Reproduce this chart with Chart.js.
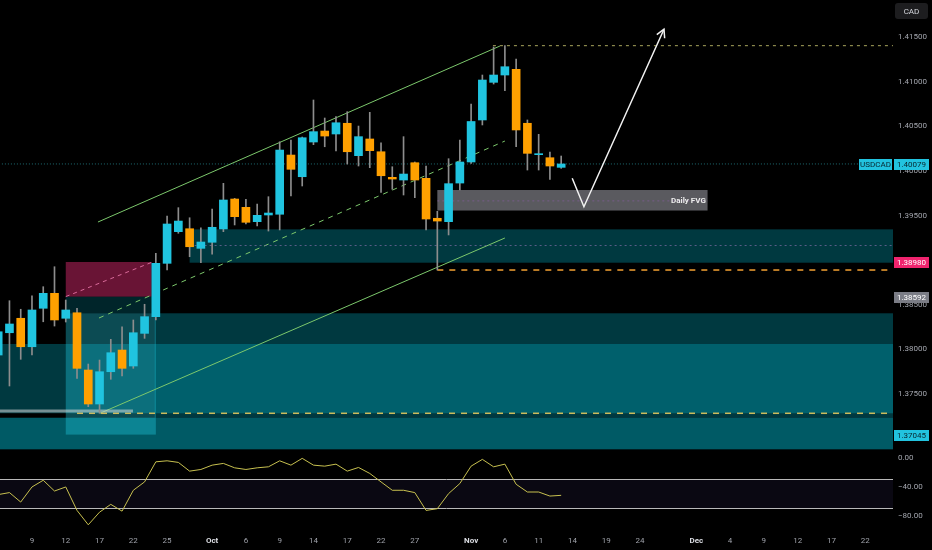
<!DOCTYPE html>
<html>
<head>
<meta charset="utf-8">
<title>USDCAD</title>
<script src="https://cdn.jsdelivr.net/npm/chart.js@4.4.1/dist/chart.umd.min.js"></script>
<style>
  html, body { margin: 0; padding: 0; background: #000; }
  #wrap { width: 932px; height: 550px; position: relative; }
</style>
</head>
<body>
<div id="wrap"><canvas id="chart" width="932" height="550"></canvas></div>
<script>
// daily candles, 2025
const dates = [
  'Sep 4', 'Sep 5', 'Sep 8', 'Sep 9', 'Sep 10', 'Sep 11', 'Sep 12', 'Sep 15', 'Sep 16', 'Sep 17',
  'Sep 18', 'Sep 19', 'Sep 22', 'Sep 23', 'Sep 24', 'Sep 25', 'Sep 26', 'Sep 29', 'Sep 30', 'Oct 1',
  'Oct 2', 'Oct 3', 'Oct 6', 'Oct 7', 'Oct 8', 'Oct 9', 'Oct 10', 'Oct 13', 'Oct 14', 'Oct 15',
  'Oct 16', 'Oct 17', 'Oct 20', 'Oct 21', 'Oct 22', 'Oct 23', 'Oct 24', 'Oct 27', 'Oct 28', 'Oct 29',
  'Oct 30', 'Oct 31', 'Nov 3', 'Nov 4', 'Nov 5', 'Nov 6', 'Nov 7', 'Nov 10', 'Nov 11', 'Nov 12', 'Nov 13'
];
const open = [
  1.37937, 1.38187, 1.38349, 1.38030, 1.38461, 1.38629, 1.38349, 1.38411, 1.37769, 1.37388,
  1.37750, 1.37993, 1.37814, 1.38180, 1.38367, 1.38965, 1.39320, 1.39353, 1.39133, 1.39201,
  1.39350, 1.39686, 1.39593, 1.39432, 1.39507, 1.39515, 1.40179, 1.39936, 1.40325, 1.40448,
  1.40415, 1.40535, 1.40172, 1.40359, 1.40216, 1.39929, 1.39899, 1.40093, 1.39918, 1.39470,
  1.39432, 1.39865, 1.40101, 1.40572, 1.40994, 1.41076, 1.41140, 1.40535, 1.40183, 1.40149, 1.40041
];
const high = [
  1.38274, 1.38546, 1.38450, 1.38602, 1.38703, 1.38927, 1.38554, 1.38461, 1.37836, 1.37881,
  1.38113, 1.38254, 1.38330, 1.38506, 1.39077, 1.39496, 1.39589, 1.39476, 1.39364, 1.39574,
  1.39862, 1.39694, 1.39683, 1.39630, 1.39712, 1.40328, 1.40348, 1.40381, 1.40796, 1.40594,
  1.40609, 1.40665, 1.40504, 1.40658, 1.40317, 1.40048, 1.40385, 1.40101, 1.40056, 1.39548,
  1.40138, 1.40348, 1.40751, 1.41076, 1.41390, 1.41405, 1.41256, 1.40572, 1.40411, 1.40213, 1.40168
];
const low = [
  1.37769, 1.37590, 1.37889, 1.37937, 1.38310, 1.38262, 1.38307, 1.37676, 1.37358, 1.37284,
  1.37665, 1.37702, 1.37788, 1.38124, 1.38330, 1.38890, 1.39302, 1.39039, 1.38972, 1.39069,
  1.39320, 1.39395, 1.39406, 1.39383, 1.39327, 1.39339, 1.39720, 1.39832, 1.40295, 1.40272,
  1.40224, 1.40078, 1.40056, 1.40037, 1.39761, 1.39795, 1.39731, 1.39701, 1.39339, 1.38890,
  1.39283, 1.39787, 1.40086, 1.40516, 1.40975, 1.40900, 1.40272, 1.40011, 1.40011, 1.39907, 1.40030
];
const close = [
  1.38198, 1.38285, 1.38030, 1.38442, 1.38629, 1.38330, 1.38442, 1.37788, 1.37388, 1.37750,
  1.37963, 1.37788, 1.38187, 1.38367, 1.38965, 1.39406, 1.39439, 1.39151, 1.39204, 1.39369,
  1.39675, 1.39488, 1.39425, 1.39503, 1.39529, 1.40235, 1.40019, 1.40373, 1.40441, 1.40392,
  1.40541, 1.40216, 1.40385, 1.40228, 1.39947, 1.39910, 1.39966, 1.39899, 1.39462, 1.39439,
  1.39858, 1.40101, 1.40555, 1.41020, 1.41076, 1.41169, 1.40460, 1.40198, 1.40194, 1.40056, 1.40079
];
// oscillator pane
const osc = [
  -51.0, -48.2, -61.3, -40.4, -31.1, -46.0, -40.4, -72.9, -92.8, -75.3,
  -64.5, -73.9, -45.0, -33.4, -5.6, -4.2, -6.4, -18.5, -16.2, -10.2,
  -7.8, -13.9, -16.2, -13.9, -12.5, -4.2, -10.2, -0.8, -10.2, -11.6,
  -8.8, -18.5, -13.4, -21.7, -33.4, -45.0, -45.0, -48.2, -72.9, -70.5,
  -49.6, -35.7, -11.6, -2.2, -12.5, -8.8, -36.7, -47.4, -47.4, -53.0, -52.0
];
const oscBands = [-30, -70];
// time axis (trading-day index -> label)
const tickIndex = [3, 6, 9, 12, 15, 19, 22, 25, 28, 31, 34, 37, 42, 45, 48, 51, 54, 57, 62, 65, 68, 71, 74, 77];
const tickLabels = ['9', '12', '17', '22', '25', 'Oct', '6', '9', '14', '17', '22', '27', 'Nov', '6', '11', '14', '19', '24', 'Dec', '4', '9', '12', '17', '22'];
const monthLabels = ['Oct', 'Nov', 'Dec'];
const lastPrice = 1.40079;

const UP = '#20c4e0';
const DOWN = '#ffa000';
const WICK = '#8d8d8d';
const START = -5, END = 100;

// drawings on the price pane, in data units (trading-day index, price)
const zones = [
  { x1: 13.9, x2: END, top: 1.38405, bottom: 1.37234, fill: 'rgba(0,188,212,0.30)' },
  { x1: START, x2: END, top: 1.38061, bottom: 1.37284, fill: 'rgba(0,188,212,0.30)' },
  { x1: START, x2: END, top: 1.37234, bottom: 1.36880, fill: 'rgba(0,188,212,0.48)' },
  { x1: 17.0, x2: END, top: 1.39346, bottom: 1.38972, fill: 'rgba(0,188,212,0.30)' },
  { x1: 6.0, x2: 14.0, top: 1.38592, bottom: 1.38405, fill: 'rgba(0,170,190,0.22)' },
  { x1: 6.0, x2: 13.63, top: 1.38980, bottom: 1.38592, fill: 'rgba(240,45,120,0.44)' },
  { x1: 6.0, x2: 14.0, top: 1.38405, bottom: 1.37045, fill: 'rgba(34,208,230,0.36)' },
  { x1: 39.0, x2: 63.0, top: 1.39787, bottom: 1.39557, fill: 'rgba(128,128,135,0.70)' }
];
const lines = [
  { x1: 8.86, p1: 1.39428, x2: 44.56, p2: 1.41401, color: '#7cc86c', width: 1, dash: [] },
  { x1: 8.95, p1: 1.38352, x2: 45.0, p2: 1.40336, color: '#7cc86c', width: 1, dash: [5, 5] },
  { x1: 9.04, p1: 1.37284, x2: 45.0, p2: 1.39249, color: '#7cc86c', width: 1, dash: [] },
  { x1: 43.94, p1: 1.41405, x2: END, p2: 1.41405, color: '#a9a55c', width: 1, dash: [3, 4] },
  { x1: START, p1: lastPrice, x2: END, p2: lastPrice, color: '#1d6c73', width: 1, dash: [1, 2] },
  { x1: 39.0, p1: 1.38890, x2: END, p2: 1.38890, color: '#f2a032', width: 1.5, dash: [6, 6] },
  { x1: 7.0, p1: 1.37284, x2: END, p2: 1.37284, color: '#cdbb5c', width: 1.5, dash: [6, 6] },
  { x1: START, p1: 1.37310, x2: 11.97, p2: 1.37310, color: 'rgba(215,215,215,0.55)', width: 3, dash: [] },
  { x1: 17.0, p1: 1.39165, x2: END, p2: 1.39165, color: 'rgba(120,105,160,0.75)', width: 1, dash: [2, 3] },
  { x1: 39.0, p1: 1.39665, x2: 63.0, p2: 1.39665, color: 'rgba(150,95,180,0.5)', width: 1, dash: [2, 3] },
  { x1: 6.0, p1: 1.38592, x2: 13.63, p2: 1.38976, color: 'rgba(235,120,170,0.85)', width: 1, dash: [4, 4] }
];
const arrowPath = [[50.98, 1.39918], [52.02, 1.39600], [59.13, 1.41589]];
const priceTags = [
  { price: 1.40079, text: '1.40079', bg: '#22c3df', fg: '#08262e' },
  { price: 1.38980, text: '1.38980', bg: '#f0246e', fg: '#ffffff' },
  { price: 1.38592, text: '1.38592', bg: '#7b7d86', fg: '#ffffff' },
  { price: 1.37045, text: '1.37045', bg: '#22c3df', fg: '#08262e' }
];

const wicks = dates.map((d, i) => ({ x: i, y: [low[i], high[i]] }));
const bodies = dates.map((d, i) => ({ x: i, y: [open[i], close[i]] }));
const bodyColors = dates.map((d, i) => close[i] >= open[i] ? UP : DOWN);

const isMonthTick = c => !!(c && c.tick) && monthLabels.includes(tickLabels[tickIndex.indexOf(c.tick.value)]);
// keep the panes flush with the canvas edges
const noPad = s => { s.paddingTop = 0; s.paddingBottom = 0; s.paddingLeft = 0; s.paddingRight = 0; };

const overlay = {
  id: 'overlay',
  beforeDatasetsDraw(chart) {
    const { ctx, chartArea } = chart;
    const xs = chart.scales.x, ys = chart.scales.y, os = chart.scales.y2;
    const X = v => xs.getPixelForValue(v);
    const P = v => ys.getPixelForValue(v);

    // oscillator band
    ctx.save();
    const b1 = os.getPixelForValue(oscBands[0]), b2 = os.getPixelForValue(oscBands[1]);
    ctx.fillStyle = 'rgba(110,85,200,0.09)';
    ctx.fillRect(chartArea.left, b1, chartArea.width, b2 - b1);
    ctx.strokeStyle = '#b9b9b9';
    ctx.lineWidth = 1;
    [b1, b2].forEach(y => {
      ctx.beginPath();
      ctx.moveTo(chartArea.left, Math.round(y) + 0.5);
      ctx.lineTo(chartArea.right, Math.round(y) + 0.5);
      ctx.stroke();
    });
    ctx.restore();

    ctx.save();
    ctx.beginPath();
    ctx.rect(chartArea.left, ys.top, chartArea.width, ys.bottom - ys.top - 2);
    ctx.clip();
    zones.forEach(z => {
      const x1 = X(z.x1), x2 = X(z.x2), y1 = P(z.top), y2 = P(z.bottom);
      ctx.fillStyle = z.fill;
      ctx.fillRect(x1, y1, x2 - x1, y2 - y1);
    });
    lines.forEach(l => {
      ctx.strokeStyle = l.color;
      ctx.lineWidth = l.width;
      ctx.setLineDash(l.dash);
      ctx.beginPath();
      ctx.moveTo(X(l.x1), P(l.p1));
      ctx.lineTo(X(l.x2), P(l.p2));
      ctx.stroke();
    });
    ctx.restore();
  },
  afterDatasetsDraw(chart) {
    const { ctx } = chart;
    const xs = chart.scales.x, ys = chart.scales.y;
    const X = v => xs.getPixelForValue(v);
    const P = v => ys.getPixelForValue(v);

    // projection arrow
    const pts = arrowPath.map(p => [X(p[0]), P(p[1])]);
    ctx.save();
    ctx.strokeStyle = '#f2f2f2';
    ctx.lineWidth = 1.5;
    ctx.beginPath();
    pts.forEach((p, i) => i ? ctx.lineTo(p[0], p[1]) : ctx.moveTo(p[0], p[1]));
    ctx.stroke();
    const [a, b] = pts.slice(-2);
    const ang = Math.atan2(b[1] - a[1], b[0] - a[0]);
    const len = 9;
    ctx.beginPath();
    ctx.moveTo(b[0] - len * Math.cos(ang - 0.5), b[1] - len * Math.sin(ang - 0.5));
    ctx.lineTo(b[0], b[1]);
    ctx.lineTo(b[0] - len * Math.cos(ang + 0.5), b[1] - len * Math.sin(ang + 0.5));
    ctx.stroke();

    // FVG label
    ctx.fillStyle = '#ececec';
    ctx.font = 'bold 8px Roboto';
    ctx.textAlign = 'right';
    ctx.textBaseline = 'middle';
    ctx.fillText('Daily FVG', X(62.85), P((1.39787 + 1.39557) / 2) + 0.5);
    ctx.restore();
  },
  afterDraw(chart) {
    const { ctx, chartArea } = chart;
    const ys = chart.scales.y;
    const axisX = ys.left + 1;
    const tag = (x, yc, w, text, bg, fg) => {
      ctx.fillStyle = bg;
      ctx.fillRect(x, Math.round(yc) - 5, w, 11);
      ctx.fillStyle = fg;
      ctx.font = '8px Roboto';
      ctx.textAlign = 'center';
      ctx.textBaseline = 'middle';
      ctx.fillText(text, x + w / 2, Math.round(yc) + 0.5);
    };
    ctx.save();
    priceTags.forEach(t => tag(axisX, ys.getPixelForValue(t.price), 35, t.text, t.bg, t.fg));
    tag(chartArea.right - 34, ys.getPixelForValue(lastPrice), 33, 'USDCAD', '#22c3df', '#08262e');

    // currency box
    ctx.fillStyle = '#1d1d1f';
    ctx.beginPath();
    ctx.roundRect(axisX + 1, 3, 33, 16, 3);
    ctx.fill();
    ctx.fillStyle = '#d6d8de';
    ctx.font = '8px Roboto';
    ctx.textAlign = 'center';
    ctx.textBaseline = 'middle';
    ctx.fillText('CAD', axisX + 17.5, 11.5);
    ctx.restore();
  }
};

new Chart(document.getElementById('chart'), {
  type: 'bar',
  data: {
    datasets: [
      {
        label: 'body',
        data: bodies,
        backgroundColor: bodyColors,
        barThickness: 8,
        minBarLength: 1,
        grouped: false,
        borderWidth: 0,
        order: 0
      },
      {
        label: 'wick',
        data: wicks,
        backgroundColor: WICK,
        barThickness: 1,
        grouped: false,
        borderWidth: 0,
        order: 1
      },
      {
        type: 'line',
        label: 'oscillator',
        data: osc.map((v, i) => ({ x: i, y: v })),
        yAxisID: 'y2',
        borderColor: '#c7c04f',
        borderWidth: 1,
        pointRadius: 0,
        tension: 0,
        order: 2
      }
    ]
  },
  options: {
    responsive: false,
    animation: false,
    events: [],
    layout: { padding: 0 },
    plugins: {
      legend: { display: false },
      tooltip: { enabled: false }
    },
    scales: {
      x: {
        type: 'linear',
        min: 0.16,
        max: 79.47,
        offset: false,
        grid: { display: false, drawTicks: false, offset: false },
        border: { display: false },
        afterBuildTicks: s => { s.ticks = tickIndex.map(v => ({ value: v })); },
        afterFit: s => { s.height = 20; noPad(s); },
        ticks: {
          autoSkip: false,
          maxRotation: 0,
          padding: 6,
          color: c => isMonthTick(c) ? '#dcdee4' : '#9fa2aa',
          font: c => ({ size: 8, family: 'Roboto', weight: isMonthTick(c) ? 'bold' : 'normal' }),
          callback: v => {
            const k = tickIndex.indexOf(v);
            return k >= 0 ? tickLabels[k] : '';
          }
        }
      },
      y: {
        position: 'right',
        stack: 'panes',
        stackWeight: 452,
        min: 1.3685,
        max: 1.41917,
        beginAtZero: false,
        grid: { display: false, drawTicks: false },
        border: { display: false },
        afterFit: s => { s.width = 39; noPad(s); },
        ticks: {
          stepSize: 0.005,
          includeBounds: false,
          padding: 5,
          color: '#a3a6ae',
          font: { size: 8, family: 'Roboto' },
          callback: v => v.toFixed(5)
        }
      },
      y2: {
        position: 'right',
        stack: 'panes',
        stackWeight: 78,
        min: -100,
        max: 8,
        grid: { display: false, drawTicks: false },
        border: { display: false },
        afterFit: s => { s.width = 39; noPad(s); },
        ticks: {
          stepSize: 40,
          includeBounds: false,
          padding: 5,
          color: '#a3a6ae',
          font: { size: 8, family: 'Roboto' },
          callback: v => (v < 0 ? '\u2212' : '') + Math.abs(v).toFixed(2)
        }
      }
    }
  },
  plugins: [overlay]
});
</script>
</body>
</html>
